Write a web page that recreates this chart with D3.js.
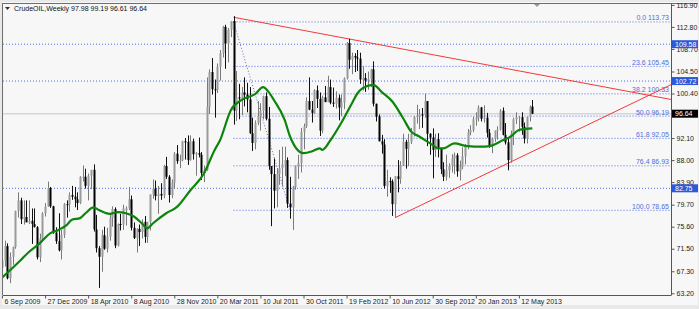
<!DOCTYPE html>
<html>
<head>
<meta charset="utf-8">
<script src="https://cdn.jsdelivr.net/npm/d3@7"></script>
<style>
  html, body { margin: 0; padding: 0; background: #e9e9e9; }
  svg { display: block; }
  text { font-family: "Liberation Sans Narrow", "Liberation Sans", Arial, sans-serif; font-size: 7px; }
</style>
</head>
<body>
<div id="chart"></div>
<script>
// weekly candles, 6 Sep 2009 .. 16 Jun 2013
var open = [68.0,69.3,72.0,66.0,70.0,71.8,78.5,80.5,77.0,77.4,76.4,76.7,76.1,75.5,69.9,73.4,78.1,
  79.4,82.8,79.4,74.5,72.9,71.2,74.1,79.8,79.7,81.5,81.2,80.7,80.0,84.9,84.9,83.2,85.1,86.2,75.1,71.6,70.0,74.0,71.5,73.8,77.2,78.9,72.1,76.1,76.0,78.6,79.0,80.7,75.4,73.5,75.2,74.6,76.5,73.7,76.5,81.6,82.7,81.3,81.7,81.4,86.9,84.9,81.5,83.8,89.2,87.8,88.0,91.5,
  91.4,88.0,91.5,89.1,89.3,89.0,85.6,86.2,97.9,104.4,101.2,101.1,105.4,107.9,112.8,109.7,112.3,113.9,97.2,99.7,99.5,100.6,100.2,99.3,93.0,91.2,94.9,96.2,97.2,99.9,95.7,86.9,85.4,82.3,85.4,86.5,87.2,88.0,79.9,79.2,83.0,86.8,87.4,93.3,94.3,99.0,97.4,96.8,101.0,99.4,93.5,99.7,
  98.8,101.6,98.7,98.5,99.6,97.8,98.7,103.2,109.8,106.7,107.4,107.1,106.9,103.0,103.3,102.8,103.1,104.9,98.5,96.1,91.5,90.9,83.2,84.1,84.0,79.8,85.0,84.5,87.1,91.4,90.1,91.4,92.9,96.0,96.2,96.5,96.4,99.0,92.9,92.2,89.9,91.9,90.1,86.3,84.9,86.1,86.9,88.3,88.9,85.9,86.7,88.7,90.8,
  93.1,93.6,95.6,95.9,97.8,95.7,95.9,93.1,90.7,92.0,93.5,93.7,97.2,92.7,91.3,88.0,93.0,95.6,96.0,96.0,94.2,92.0,96.0,97.98];
var high = [72.6,73.0,72.5,70.8,71.9,78.6,82.0,81.0,80.5,80.5,80.5,79.0,79.0,75.7,74.3,78.3,80.0,
  84.0,83.0,79.5,75.5,78.1,75.0,80.0,80.5,82.0,83.2,83.0,82.0,85.0,87.0,86.4,85.5,86.1,87.2,77.8,72.0,75.0,75.6,75.4,78.0,79.4,79.2,76.2,78.0,79.7,79.4,83.0,81.4,76.4,75.3,76.0,77.0,77.6,76.5,81.6,84.4,84.2,83.2,83.7,87.1,88.6,85.2,84.4,89.5,90.8,89.0,91.6,92.1,
  92.6,92.6,92.0,89.5,92.2,89.5,87.0,103.4,104.9,107.0,103.0,106.0,108.5,113.0,113.2,112.6,113.9,114.8,104.6,102.2,101.6,103.4,102.4,101.6,95.9,95.4,99.0,98.6,100.0,100.6,97.9,86.9,88.3,86.5,89.9,90.5,90.5,88.5,84.9,83.2,87.0,89.0,94.0,94.8,99.7,103.4,99.0,101.2,101.9,100.6,100.0,101.8,
  103.7,103.0,101.5,100.8,100.2,100.2,103.4,110.0,110.6,108.0,107.9,108.5,108.0,105.5,104.2,104.5,105.0,106.4,98.5,96.5,92.7,91.9,86.2,84.8,84.4,85.0,88.0,87.8,92.9,91.8,92.9,94.0,96.2,98.3,97.5,97.7,100.4,99.0,93.0,93.9,92.9,93.0,90.3,87.6,89.0,87.4,89.1,89.4,89.3,87.9,90.4,91.0,93.8,
  94.5,96.1,96.9,98.2,97.9,98.2,96.8,93.8,92.2,93.5,94.3,97.5,97.8,94.9,92.1,93.5,95.9,96.9,96.2,96.9,95.0,96.1,98.2,99.19];
var low = [67.4,68.2,65.8,65.1,68.5,71.5,77.3,76.1,76.0,76.6,76.1,72.4,75.5,69.5,69.0,72.8,77.5,
  79.3,79.1,74.3,72.4,71.0,69.5,73.5,77.3,78.4,80.6,79.2,78.7,79.8,84.0,82.7,80.5,82.6,74.7,70.8,64.2,67.2,71.3,70.8,73.0,75.6,71.6,71.9,74.9,75.0,75.8,78.7,74.9,73.3,70.8,72.0,73.4,72.6,72.6,74.9,80.8,80.5,78.0,80.6,80.9,84.5,80.1,80.9,82.7,87.3,86.5,87.8,88.1,
  87.1,87.9,88.1,85.1,88.5,84.3,83.9,86.0,96.6,100.2,95.9,100.5,102.8,107.1,105.0,106.2,110.9,94.6,95.3,95.6,96.4,98.0,96.9,92.9,89.7,90.0,94.5,93.5,95.6,95.4,86.2,75.7,79.0,79.2,83.4,83.1,85.0,79.1,77.1,75.0,82.5,84.5,85.7,90.0,94.0,97.3,95.0,96.6,97.7,92.5,93.0,98.8,
  98.8,98.4,97.9,97.6,95.4,96.2,97.5,103.0,105.0,104.0,104.4,104.6,102.2,101.0,100.7,101.1,101.6,98.0,95.2,91.5,89.2,82.7,81.2,81.9,77.6,77.3,82.0,83.6,86.9,86.4,86.9,91.0,92.4,94.8,93.8,94.0,95.9,90.6,89.0,84.6,88.6,88.5,85.4,84.1,84.2,84.7,85.7,85.4,84.9,84.2,86.3,87.2,90.0,
  92.6,93.2,94.4,95.2,95.2,95.0,92.2,90.3,89.3,91.4,91.8,93.5,92.6,90.9,86.1,87.5,90.8,94.7,93.3,92.7,91.1,91.1,95.2,96.61];
var close = [69.3,72.0,66.0,70.0,71.8,78.5,80.5,77.0,77.4,76.4,76.7,76.1,75.5,69.9,73.4,78.1,79.4,
  82.8,79.4,74.5,72.9,71.2,74.1,79.8,79.7,81.5,81.2,80.7,80.0,84.9,84.9,83.2,85.1,86.2,75.1,71.6,70.0,74.0,71.5,73.8,77.2,78.9,72.1,76.1,76.0,79.0,79.0,80.7,75.4,73.5,75.2,74.6,76.5,73.7,76.5,81.6,82.7,81.3,81.7,81.4,86.9,84.9,81.5,83.8,89.2,87.8,88.0,91.5,91.4,
  88.0,91.5,89.1,89.3,89.0,85.6,86.2,97.9,104.4,101.2,101.1,105.4,107.9,112.8,109.7,112.3,113.9,97.2,99.7,99.5,100.6,100.2,99.3,93.0,91.2,94.9,96.2,97.2,99.9,95.7,86.9,85.4,82.3,85.4,86.5,87.2,88.0,79.9,79.2,83.0,86.8,87.4,93.3,94.3,99.0,97.4,96.8,101.0,99.4,93.5,99.7,98.8,
  101.6,98.7,98.5,99.6,97.8,98.7,103.2,109.8,106.7,107.4,107.1,106.9,103.0,103.3,102.8,103.1,104.9,98.5,96.1,91.5,90.9,83.2,84.1,84.0,79.8,85.0,84.5,87.1,91.4,90.1,91.4,92.9,96.0,96.2,96.5,96.4,99.0,92.9,92.2,89.9,91.9,90.1,86.3,84.9,86.1,86.9,88.3,88.9,85.9,86.7,88.7,90.8,93.1,
  93.6,95.6,95.9,97.8,95.7,95.9,93.1,90.7,92.0,93.5,93.7,97.2,92.7,91.3,88.0,93.0,95.6,96.0,96.0,94.2,92.0,96.0,97.9,96.64];

// moving average (bar index, price)
var maIndex = [0,7,10,14,18,21,24,26,29,31,34,36,40,43,46,49,52,54,56,61,65,70,75,79,81,85,89,94,97,99,101,105,107,112,115,118,119,122,126,130,132,134,138,141,145,149,152,155,160,162,164,168,173,178,181,186,189,192,197];
var maValue = [66.1,69.4,70.9,72.5,74.4,75.0,75.9,76.9,77.2,78.1,79.2,78.7,78.0,78.3,78.1,77.5,76.2,75.3,76.2,78.1,79.3,82.4,85.5,89.9,91.7,97.3,99.2,100.3,101.6,100.7,99.2,95.5,92.4,89.3,89.6,90.2,89.9,91.7,94.9,98.6,100.4,101.4,102.0,100.7,98.9,95.8,93.3,92.4,90.8,90.2,90.2,91.1,90.6,90.5,90.6,91.7,92.4,93.6,93.9];

var dateTickIndex = [0,16,32,48,64,80,96,112,128,144,160,176,192];
var dateTickLabels = ["6 Sep 2009","27 Dec 2009","18 Apr 2010","8 Aug 2010","28 Nov 2010","20 Mar 2011","10 Jul 2011","30 Oct 2011","19 Feb 2012","10 Jun 2012","30 Sep 2012","20 Jan 2013","12 May 2013"];
// 96.30 sits under the last price tag in the original, so only its tick shows
var priceTicks = [116.90,112.80,108.70,104.50,100.40,96.30,92.10,88.00,83.90,79.70,75.60,71.50,67.30,63.20];
var hiddenTickLabels = [96.30];

// fibonacci retracement (from the 2011 top to the 2011 bottom)
var fibStart = [86, 113.73];
var fibEnd = [107, 78.65];
var fibLevels = ["0.0","23.6","38.2","50.0","61.8","76.4","100.0"];
var fibPrices = [113.73,105.45,100.33,96.19,92.05,86.93,78.65];

// horizontal levels with price tags
var levelPrices = [109.58,102.72,82.75];
var lastPrice = 96.64;

// trend lines: two anchor points each [bar, price], drawn as rays
var trendLines = [
  [[86, 114.6], [129, 110.55]],
  [[146, 77.28], [197, 89.6]]
];

var svgWidth = 699;
var svgHeight = 309;
var plot = { left: 3, top: 4, right: 671, bottom: 295 };

var svg = d3.select("#chart").append("svg")
  .attr("width", svgWidth)
  .attr("height", svgHeight);

svg.append("rect").attr("x", 2).attr("y", 2).attr("width", 696).attr("height", 303)
  .attr("fill", "#f7f7f7");

var x = d3.scaleLinear().domain([0, 248.5]).range([2, 2 + 2.692 * 248.5]);
var y = d3.scaleLinear().domain([63.2, 116.9]).range([293.3, 4.9]);

svg.append("clipPath").attr("id", "clip")
  .append("rect")
  .attr("x", plot.left).attr("y", plot.top)
  .attr("width", plot.right - plot.left).attr("height", plot.bottom - plot.top);

var g = svg.append("g").attr("clip-path", "url(#clip)");

// full width lines
g.selectAll(".lvl")
  .data(levelPrices)
  .enter().append("line")
  .attr("x1", plot.left).attr("x2", plot.right)
  .attr("y1", d => y(d)).attr("y2", d => y(d))
  .attr("stroke", "#4c6fe6").attr("stroke-width", 1).attr("stroke-dasharray", "1,2");

g.append("line")
  .attr("x1", plot.left).attr("x2", plot.right)
  .attr("y1", y(lastPrice)).attr("y2", y(lastPrice))
  .attr("stroke", "#d6d6d6").attr("stroke-width", 1.5);

// fibo
g.selectAll(".fib")
  .data(fibPrices)
  .enter().append("line")
  .attr("x1", x(fibStart[0])).attr("x2", plot.right)
  .attr("y1", d => y(d)).attr("y2", d => y(d))
  .attr("stroke", "#4c6fe6").attr("stroke-width", 1).attr("stroke-dasharray", "1,2");

g.append("line")
  .attr("x1", x(fibStart[0])).attr("y1", y(fibStart[1]))
  .attr("x2", x(fibEnd[0])).attr("y2", y(fibEnd[1]))
  .attr("stroke", "#4c6fe6").attr("stroke-width", 1).attr("stroke-dasharray", "1,2");

g.selectAll(".fibtxt")
  .data(fibPrices)
  .enter().append("text")
  .attr("x", 669)
  .attr("y", d => y(d) - 1.5)
  .attr("text-anchor", "end")
  .attr("fill", "#4f6fdc")
  .text((d, i) => fibLevels[i] + " " + d.toFixed(2));

// trend lines, extended to the right edge
trendLines.forEach(function (t) {
  var slope = (t[1][1] - t[0][1]) / (t[1][0] - t[0][0]);
  var endBar = x.invert(plot.right);
  g.append("line")
    .attr("x1", x(t[0][0])).attr("y1", y(t[0][1]))
    .attr("x2", x(endBar)).attr("y2", y(t[0][1] + slope * (endBar - t[0][0])))
    .attr("stroke", "#f03a3a").attr("stroke-width", 1);
});

// candles
var bars = d3.range(close.length);
g.selectAll(".wick")
  .data(bars)
  .enter().append("line")
  .attr("x1", i => Math.round(x(i)) + 0.5).attr("x2", i => Math.round(x(i)) + 0.5)
  .attr("y1", i => y(high[i])).attr("y2", i => y(low[i]))
  .attr("stroke", i => close[i] >= open[i] ? "#7a7a7a" : "#111")
  .attr("stroke-width", 1);

g.selectAll(".body")
  .data(bars)
  .enter().append("rect")
  .attr("x", i => Math.round(x(i)) - 0.5)
  .attr("width", 2)
  .attr("y", i => y(Math.max(open[i], close[i])))
  .attr("height", i => Math.max(1, Math.abs(y(open[i]) - y(close[i]))))
  .attr("fill", i => close[i] >= open[i] ? "#9a9a9a" : "#000");

// moving average
var maLine = d3.line()
  .x((d, i) => x(maIndex[i]))
  .y(d => y(d))
  .curve(d3.curveMonotoneX);

g.append("path")
  .datum(maValue)
  .attr("d", maLine)
  .attr("fill", "none")
  .attr("stroke", "#0b850b")
  .attr("stroke-width", 2.2);

// frame
svg.append("line").attr("x1", plot.left - 0.5).attr("x2", plot.left - 0.5)
  .attr("y1", plot.top - 1).attr("y2", plot.bottom).attr("stroke", "#6e6e6e");
svg.append("line").attr("x1", plot.left - 0.5).attr("x2", 698)
  .attr("y1", plot.top - 0.5).attr("y2", plot.top - 0.5).attr("stroke", "#6e6e6e");

// right price axis
var yAxis = d3.axisRight(y)
  .tickValues(priceTicks)
  .tickFormat(d => hiddenTickLabels.indexOf(d) >= 0 ? "" : d.toFixed(2))
  .tickSize(3)
  .tickPadding(2);

var yAxisG = svg.append("g")
  .attr("transform", "translate(" + (plot.right + 0.5) + ",0)")
  .call(yAxis);
yAxisG.select(".domain").attr("d", "M0," + plot.top + "V" + plot.bottom).attr("stroke", "#555");
yAxisG.selectAll(".tick line").attr("stroke", "#555");
yAxisG.selectAll(".tick text").attr("fill", "#222").style("font-size", "7px");

// bottom date axis
var xAxis = d3.axisBottom(x)
  .tickValues(dateTickIndex)
  .tickFormat((d, i) => dateTickLabels[i])
  .tickSize(3);

var xAxisG = svg.append("g")
  .attr("transform", "translate(0," + (plot.bottom + 0.5) + ")")
  .call(xAxis);
xAxisG.select(".domain").attr("d", "M" + plot.left + ",0H" + (plot.right + 0.5)).attr("stroke", "#555");
xAxisG.selectAll(".tick line").attr("stroke", "#555");
xAxisG.selectAll(".tick text")
  .attr("text-anchor", "start").attr("x", 2).attr("y", 4)
  .attr("fill", "#222").style("font-size", "7px");

// price tags
var tags = levelPrices.map(d => ({ v: d, bg: "#2c5ad6" })).concat([{ v: lastPrice, bg: "#000" }]);
var tagG = svg.selectAll(".tag")
  .data(tags)
  .enter().append("g")
  .attr("transform", d => "translate(672," + y(d.v) + ")");
tagG.append("rect")
  .attr("x", 0).attr("y", -4).attr("width", 26).attr("height", 8)
  .attr("fill", d => d.bg);
tagG.append("text")
  .attr("x", 3).attr("y", 2.6)
  .attr("fill", "#fff")
  .text(d => d.v.toFixed(2));

// title
svg.append("path").attr("d", "M5,7 L10,7 L7.5,10 Z").attr("fill", "#333");
svg.append("text").attr("x", 14).attr("y", 11).attr("fill", "#111")
  .text("CrudeOIL,Weekly  " + [open[197], high[197], low[197], close[197]].map(d => d.toFixed(2)).join(" "));

// chart shift marker
svg.append("path").attr("d", "M534,4 L540,4 L537,7 Z").attr("fill", "#999");
</script>
</body>
</html>
